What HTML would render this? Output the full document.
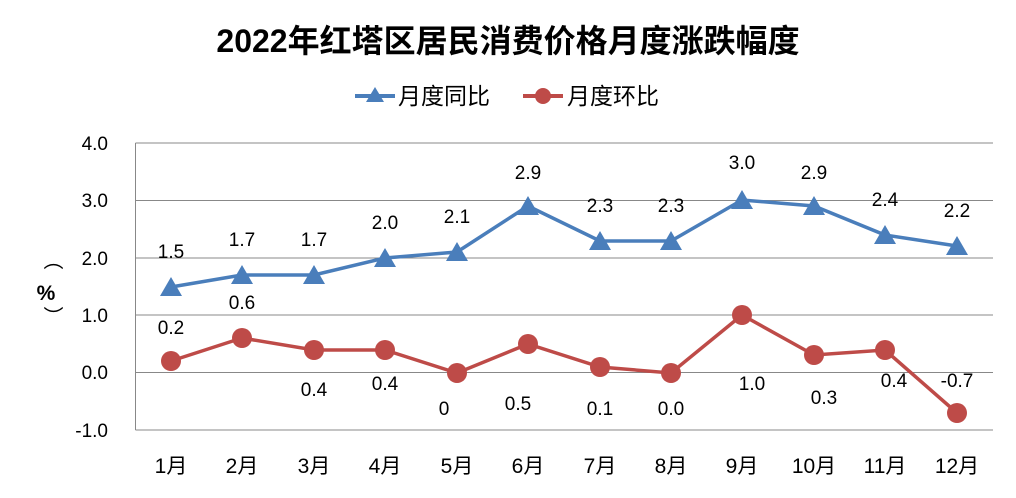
<!DOCTYPE html>
<html><head><meta charset="utf-8"><style>
body{margin:0;background:#fff}
text{font-family:"Liberation Sans","Noto Sans CJK SC",sans-serif;fill:#000}
</style></head><body>
<svg width="1016" height="493" viewBox="0 0 1016 493" xmlns="http://www.w3.org/2000/svg">
<rect width="1016" height="493" fill="#fff"/>
<text x="508" y="52" text-anchor="middle" font-size="32" font-weight="bold">2022年红塔区居民消费价格月度涨跌幅度</text>
<!-- legend -->
<line x1="355" y1="96" x2="395" y2="96" stroke="#4a7ebb" stroke-width="4"/>
<polygon points="375,87 384,102 366,102" fill="#4a7ebb"/>
<text x="398" y="104" font-size="23">月度同比</text>
<line x1="523" y1="96" x2="563" y2="96" stroke="#be4b48" stroke-width="4"/>
<circle cx="543" cy="96" r="8" fill="#be4b48"/>
<text x="567" y="104" font-size="23">月度环比</text>
<!-- grid -->
<g stroke="#888" stroke-width="1">
<line x1="135.5" y1="143" x2="993" y2="143"/>
<line x1="135.5" y1="200.5" x2="993" y2="200.5"/>
<line x1="135.5" y1="258" x2="993" y2="258"/>
<line x1="135.5" y1="315" x2="993" y2="315"/>
<line x1="135.5" y1="372.5" x2="993" y2="372.5"/>
<line x1="135.5" y1="430" x2="993" y2="430"/>
<line x1="135.5" y1="143" x2="135.5" y2="430"/>
</g>
<g font-size="19" text-anchor="end">
<text x="108" y="150">4.0</text><text x="108" y="207">3.0</text><text x="108" y="265">2.0</text>
<text x="108" y="322">1.0</text><text x="108" y="379">0.0</text><text x="108" y="437">-1.0</text>
</g>
<text x="46" y="260" font-size="20" text-anchor="middle" transform="rotate(90 46 260)">（</text>
<text x="46" y="300" font-size="21" font-weight="bold" text-anchor="middle">%</text>
<text x="46" y="316" font-size="20" text-anchor="middle" transform="rotate(90 46 316)">）</text>
<g font-size="21" text-anchor="middle">
<text x="171" y="473">1月</text><text x="242" y="473">2月</text><text x="314" y="473">3月</text>
<text x="385" y="473">4月</text><text x="457" y="473">5月</text><text x="528" y="473">6月</text>
<text x="600" y="473">7月</text><text x="671" y="473">8月</text><text x="742" y="473">9月</text>
<text x="814" y="473">10月</text><text x="885" y="473">11月</text><text x="957" y="473">12月</text>
</g>
<!-- blue series -->
<polyline fill="none" stroke="#4a7ebb" stroke-width="3.5" points="171,287 242,275 314,275 385,258 457,252 528,206 600,241 671,241 742,200 814,206 885,235 957,246"/>
<g fill="#4a7ebb">
<polygon points="171,277 182,296 160,296"/><polygon points="242,265 253,284 231,284"/><polygon points="314,265 325,284 303,284"/>
<polygon points="385,248 396,267 374,267"/><polygon points="457,242 468,261 446,261"/><polygon points="528,196 539,215 517,215"/>
<polygon points="600,231 611,250 589,250"/><polygon points="671,231 682,250 660,250"/><polygon points="742,190 753,209 731,209"/>
<polygon points="814,196 825,215 803,215"/><polygon points="885,225 896,244 874,244"/><polygon points="957,236 968,255 946,255"/>
</g>
<g font-size="19" text-anchor="middle">
<text x="171" y="258">1.5</text><text x="242" y="246">1.7</text><text x="314" y="246">1.7</text>
<text x="385" y="229">2.0</text><text x="457" y="223">2.1</text><text x="528" y="179">2.9</text>
<text x="600" y="212">2.3</text><text x="671" y="212">2.3</text><text x="742" y="169">3.0</text>
<text x="814" y="179">2.9</text><text x="885" y="206">2.4</text><text x="957" y="217">2.2</text>
</g>
<!-- red series -->
<polyline fill="none" stroke="#be4b48" stroke-width="3.5" points="171,361 242,338 314,350 385,350 457,373 528,344 600,367 671,373 742,315 814,355 885,350 957,413"/>
<g fill="#be4b48">
<circle cx="171" cy="361" r="10"/><circle cx="242" cy="338" r="10"/><circle cx="314" cy="350" r="10"/>
<circle cx="385" cy="350" r="10"/><circle cx="457" cy="373" r="10"/><circle cx="528" cy="344" r="10"/>
<circle cx="600" cy="367" r="10"/><circle cx="671" cy="373" r="10"/><circle cx="742" cy="315" r="10"/>
<circle cx="814" cy="355" r="10"/><circle cx="885" cy="350" r="10"/><circle cx="957" cy="413" r="10"/>
</g>
<g font-size="19" text-anchor="middle">
<text x="171" y="334">0.2</text><text x="242" y="309">0.6</text><text x="314" y="396">0.4</text>
<text x="385" y="390">0.4</text><text x="444" y="415">0</text><text x="518" y="410">0.5</text>
<text x="600" y="415">0.1</text><text x="671" y="415">0.0</text><text x="752" y="390">1.0</text>
<text x="824" y="404">0.3</text><text x="894" y="387">0.4</text><text x="957" y="387">-0.7</text>
</g>
</svg>
</body></html>
